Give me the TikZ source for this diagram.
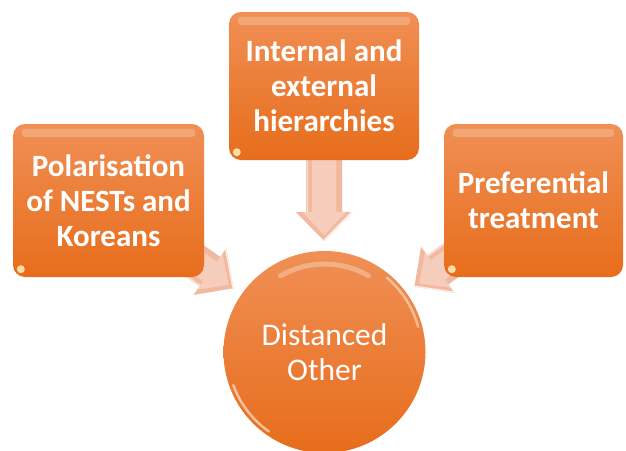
\documentclass[tikz,border=0pt]{standalone}
\usepackage{fontspec}
\setmainfont{Carlito}
\usetikzlibrary{calc}
\definecolor{boxtop}{HTML}{F08F55}
\definecolor{boxbot}{HTML}{E76D1B}
\definecolor{arrowfill}{HTML}{F2B9A1}
\definecolor{arrowlight}{HTML}{F8D6C7}
\definecolor{spot}{HTML}{FFF0C0}
\pgfdeclarelayer{bg}
\pgfsetlayers{bg,main}
\newcommand\blockarrow[2]{%
  \pgfmathanglebetweenpoints{\pgfpointanchor{#2}{center}}{\pgfpointanchor{#1}{center}}%
  \let\myang\pgfmathresult
  \begin{scope}[shift={($(#2.center)!111pt!(#1.center)$)}, rotate=\myang]
    \fill[arrowfill] (0,0) -- (29,28.5) -- (29,18) -- (115,18) -- (115,-18) -- (29,-18) -- (29,-28.5) -- cycle;
    \fill[arrowlight, opacity=.7] (6,0) -- (29,22) -- (29,12) -- (115,12) -- (115,-12) -- (29,-12) -- (29,-22) -- cycle;
    \draw[white, opacity=.8, line width=1.2pt] (1,0) -- (29,27.5);
    \draw[white, opacity=.6, line width=1.2pt] (29,-17) -- (115,-17);
  \end{scope}}
\begin{document}
\begin{tikzpicture}[x=1pt,y=-1pt,
  box/.style={rectangle, rounded corners=12pt, minimum height=153pt,
    top color=boxtop, bottom color=boxbot, draw=none, text=white,
    align=center, font=\fontsize{31}{35}\selectfont\bfseries, inner sep=0pt},
  hub/.style={circle, minimum size=202pt, inner sep=0pt, draw=none,
    top color=boxtop, bottom color=boxbot, text=white, align=center,
    font=\fontsize{31.5}{35}\selectfont},
  gloss/.style={white, opacity=.22, rounded corners=3pt},
  rim/.style={white, line width=2.5pt, line cap=round}]
\useasboundingbox (0,0) rectangle (626,450);
\node[box, minimum width=191pt] (pol) at (108.5,200.5) {Polarisation\\of NESTs and\\Koreans};
\node[box, minimum width=190pt, minimum height=148pt] (hier) at (324,86) {Internal and\\external\\hierarchies};
\node[box, minimum width=179pt] (pref) at (533.5,200.5) {Preferential\\treatment};
\node[hub] (dist) at (324.5,352) {Distanced\\Other};
% gloss on boxes
\foreach \b in {pol,hier,pref}{
  \fill[gloss] ($(\b.north west)+(9,5)$) rectangle ($(\b.north east)+(-9,13)$);
  \fill[spot, opacity=.85] ($(\b.south west)+(8,-8)$) circle (4pt);
}
% highlights on the circle
\draw[rim, opacity=.55] ($(dist.center)+(125:97)$) arc[start angle=125, end angle=160, radius=97];
\draw[rim, opacity=.45] ($(dist.center)+(-50:97)$) arc[start angle=-50, end angle=-15, radius=97];
\draw[white, opacity=.3, line width=5pt, line cap=round] ($(dist.center)+(-120:88)$) arc[start angle=-120, end angle=-60, radius=88];
\begin{pgfonlayer}{bg}
  \blockarrow{pol}{dist}
  \blockarrow{hier}{dist}
  \blockarrow{pref}{dist}
\end{pgfonlayer}
\end{tikzpicture}
\end{document}
